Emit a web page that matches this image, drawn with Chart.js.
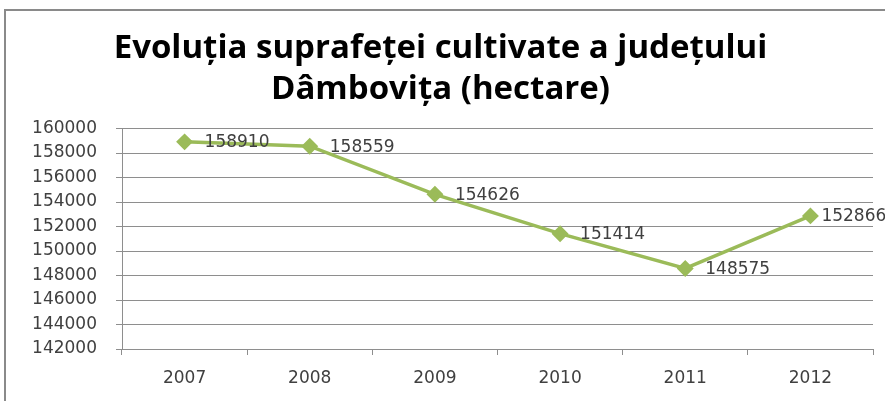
<!DOCTYPE html>
<html>
<head>
<meta charset="utf-8">
<script src="https://cdn.jsdelivr.net/npm/chart.js@4"></script>
<style>
  html, body { margin: 0; padding: 0; background: #fff; }
  canvas { display: block; }
</style>
</head>
<body>
<canvas id="myChart" width="885" height="401"></canvas>
<script>
// data
const years = ['2007', '2008', '2009', '2010', '2011', '2012'];
const hectares = [158910, 158559, 154626, 151414, 148575, 152866];
const titleLines = ['Evoluția suprafeței cultivate a județului', 'Dâmbovița (hectare)'];

// grey frame round the chart
const framePlugin = {
  id: 'frame',
  beforeDraw(chart) {
    const ctx = chart.ctx;
    ctx.save();
    ctx.strokeStyle = '#8a8a8a';
    ctx.lineWidth = 2;
    ctx.beginPath();
    ctx.moveTo(5, 401);
    ctx.lineTo(5, 10);
    ctx.lineTo(885, 10);
    ctx.stroke();
    ctx.restore();
  }
};

// value printed to the right of each point
const labelPlugin = {
  id: 'valueLabels',
  afterDatasetsDraw(chart) {
    const ctx = chart.ctx;
    const meta = chart.getDatasetMeta(0);
    const last = meta.data.length - 1;
    ctx.save();
    ctx.font = '17px "DejaVu Sans"';
    ctx.fillStyle = '#404040';
    ctx.textAlign = 'left';
    ctx.textBaseline = 'middle';
    meta.data.forEach((pt, i) => {
      // last label is pulled in a bit, it runs off the edge anyway
      let gap = i === last ? 11 : 20;
      ctx.fillText(String(hectares[i]), pt.x + gap, pt.y + 1);
    });
    ctx.restore();
  }
};

const line = document.getElementById('myChart');

new Chart(line, {
  type: 'line',
  data: {
    labels: years,
    datasets: [{
      data: hectares,
      borderColor: '#9bbb59',
      backgroundColor: '#9bbb59',
      borderWidth: 3.5,
      pointStyle: 'rectRot',
      pointRadius: 6,
      pointHoverRadius: 6,
      tension: 0
    }]
  },
  options: {
    responsive: false,
    animation: false,
    layout: { padding: { left: 8, right: 12, top: 0, bottom: 0 } },
    plugins: {
      legend: { display: false },
      tooltip: { enabled: false },
      title: {
        display: true,
        text: titleLines,
        color: '#000',
        font: { family: '"Open Sans", sans-serif', size: 33, weight: 'bold', lineHeight: 1.25 },
        padding: { top: 28, bottom: 18 }
      }
    },
    scales: {
      x: {
        offset: true,
        grid: {
          offset: true,
          drawOnChartArea: false,
          drawTicks: true,
          tickLength: 6,
          color: '#8e8e8e'
        },
        border: { color: '#8e8e8e' },
        ticks: {
          color: '#404040',
          padding: 13,
          font: { family: 'DejaVu Sans', size: 17 }
        },
        afterFit(scale) { scale.height = 52; }
      },
      y: {
        min: 142000,
        max: 160000,
        grid: { color: '#8e8e8e', tickLength: 6 },
        border: { color: '#8e8e8e' },
        ticks: {
          stepSize: 2000,
          color: '#404040',
          padding: 19,
          font: { family: 'DejaVu Sans', size: 17 },
          callback: (v) => String(v)
        },
        afterFit(scale) { scale.width = 114; }
      }
    }
  },
  plugins: [framePlugin, labelPlugin]
});
</script>
</body>
</html>
